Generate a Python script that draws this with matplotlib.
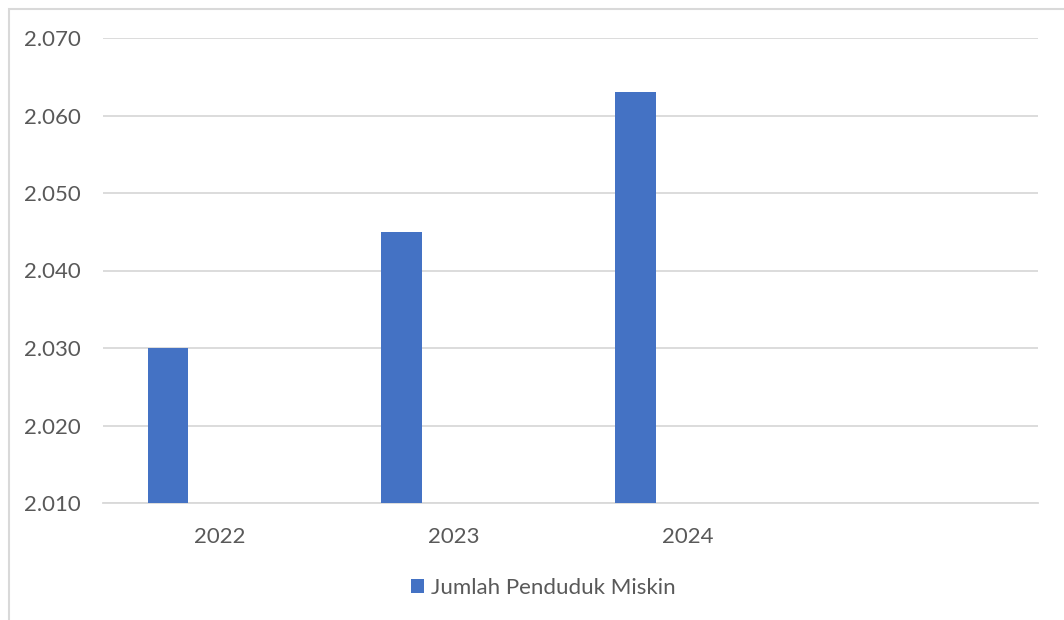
import matplotlib.pyplot as plt
from matplotlib.patches import Rectangle

# data
tahun = ['2022', '2023', '2024', '']
jumlah = [2.030, 2.045, 2.063]
nama_seri = 'Jumlah Penduduk Miskin'

plt.rcParams['font.family'] = ['Lato', 'DejaVu Sans']

fig = plt.figure(figsize=(10.64, 6.2), dpi=100)
ax = fig.add_axes([103 / 1064, 117 / 620, 935 / 1064, 465 / 620])

# border of the chart area (cropped on right and bottom)
fig.patches.append(Rectangle((9 / 1064, -0.1), 1.2, (611 / 620) + 0.1,
                             transform=fig.transFigure, fill=False,
                             edgecolor='#d9d9d9', linewidth=1.5))

x = range(len(jumlah))
ax.bar([i - 0.222 for i in x], [v - 2.010 for v in jumlah], width=0.175,
       bottom=2.010, color='#4472c4', label=nama_seri, zorder=3)

ax.set_xlim(-0.5, len(tahun) - 0.5)
ax.set_ylim(2.010, 2.070)
ax.set_yticks([2.010, 2.020, 2.030, 2.040, 2.050, 2.060, 2.070])
ax.set_yticklabels(['%.3f' % t for t in ax.get_yticks()])
ax.set_xticks(range(len(tahun)))
ax.set_xticklabels(tahun)

ax.grid(axis='y', color='#d9d9d9', linewidth=1.3, zorder=0)
for s in ['top', 'right', 'left']:
    ax.spines[s].set_visible(False)
ax.spines['bottom'].set_color('#d9d9d9')
ax.spines['bottom'].set_linewidth(1.3)
ax.tick_params(axis='both', length=0, labelsize=16, colors='#595959')
ax.tick_params(axis='y', pad=16)
ax.tick_params(axis='x', pad=17)

leg = fig.legend(loc='center', bbox_to_anchor=(543 / 1064, 1 - 588 / 620),
                 frameon=False, fontsize=16, handlelength=0.6, handleheight=0.6,
                 handletextpad=0.3, labelcolor='#595959')

fig.savefig('out.png', dpi=100)
